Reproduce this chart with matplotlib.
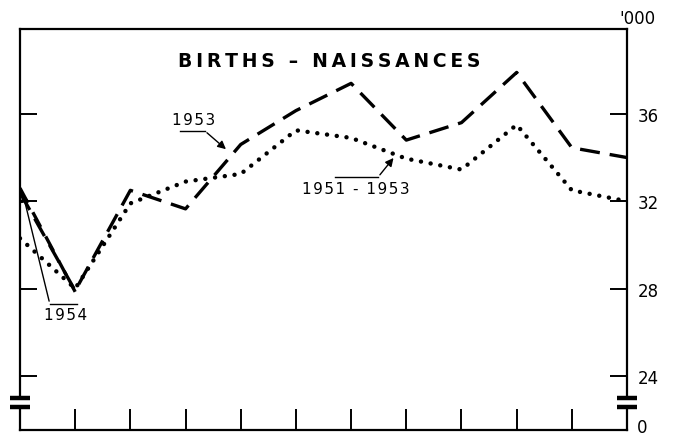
import matplotlib
matplotlib.use("Agg")
import matplotlib.pyplot as plt

# monthly births, thousands (Jan..Dec)
months = list(range(12))
births_1953 = [32.4, 27.9, 32.5, 31.65, 34.6, 36.15, 37.4, 34.8, 35.6, 37.9, 34.45, 34.0]
births_1951_53 = [30.3, 28.0, 31.9, 32.9, 33.25, 35.25, 34.9, 33.95, 33.45, 35.5, 32.5, 32.0]
months_1954 = [0, 1]
births_1954 = [32.6, 27.85]

ytick_vals = [24, 28, 32, 36]
ytick_labels = ["24", "28", "32", "36"]
title = "BIRTHS – NAISSANCES"
unit = "'000"


def spaced(s, sep="\u200a"):
    return sep.join(s)


fig = plt.figure(figsize=(6.73, 4.39), dpi=100)
ax = fig.add_axes([0.0297, 0.0182, 0.902, 0.9135])
ylo, yhi = 21.52, 39.89
ax.set_xlim(0, 11)
ax.set_ylim(ylo, yhi)

ax.plot(months, births_1953, color="black", lw=2.4, dashes=(6, 3), solid_capstyle="butt")
ax.plot(months_1954, births_1954, color="black", lw=2.4, dashes=(5, 3.2))
ax.plot(months, births_1951_53, color="black", lw=3.2, dashes=(0.01, 2.2),
        dash_capstyle="round")

# frame: top and bottom spines kept, left/right drawn with a break
ax.spines["left"].set_visible(False)
ax.spines["right"].set_visible(False)
for s in ("top", "bottom"):
    ax.spines[s].set_linewidth(1.6)
b0, b1 = 0.057, 0.081
for xa in (0, 1):
    ax.plot([xa, xa], [0, b0], transform=ax.transAxes, color="black", lw=1.6, clip_on=False)
    ax.plot([xa, xa], [b1, 1], transform=ax.transAxes, color="black", lw=1.6, clip_on=False)
    for yb in (b0, b1):
        ax.plot([xa - 0.017, xa + 0.017], [yb, yb], transform=ax.transAxes,
                color="black", lw=3.2, clip_on=False, solid_capstyle="butt")

ax.set_xticks(months[1:-1])
ax.set_xticklabels([])
ax.tick_params(axis="x", direction="in", length=15, width=1.4, top=False)
ax.set_yticks(ytick_vals)
ax.set_yticklabels(ytick_labels)
ax.tick_params(axis="y", direction="in", length=12, width=1.4, left=True, right=True,
               labelleft=False, labelright=True, labelsize=12, pad=8)
fig.text(0.9465, 0.004, "0", ha="left", va="bottom", fontsize=12)

ax.text(5.6, 38.43, spaced(title, "\u2009"), ha="center", va="center", fontsize=13.5,
        fontweight="bold")
fig.text(0.9465, 0.957, unit, ha="center", va="center", fontsize=12)

# labels with leader arrows
lab_kw = dict(ha="center", va="center", fontsize=11)
ax.text(3.14, 35.73, spaced("1953"), **lab_kw)
ax.plot([2.90, 3.35], [35.22, 35.22], color="black", lw=1)
ax.annotate("", xy=(3.77, 34.30), xytext=(3.35, 35.22),
            arrowprops=dict(arrowstyle="-|>", color="black", lw=1, mutation_scale=12))

ax.text(6.09, 32.6, spaced("1951 - 1953"), **lab_kw)
ax.plot([5.71, 6.49], [33.11, 33.11], color="black", lw=1)
ax.annotate("", xy=(6.80, 34.08), xytext=(6.49, 33.11),
            arrowprops=dict(arrowstyle="-|>", color="black", lw=1, mutation_scale=12))

ax.text(0.82, 26.8, spaced("1954"), **lab_kw)
ax.plot([0.54, 1.03], [27.30, 27.30], color="black", lw=1)
ax.annotate("", xy=(0.04, 32.47), xytext=(0.54, 27.30),
            arrowprops=dict(arrowstyle="-|>", color="black", lw=1, mutation_scale=12))

fig.savefig("out.png", dpi=100)
